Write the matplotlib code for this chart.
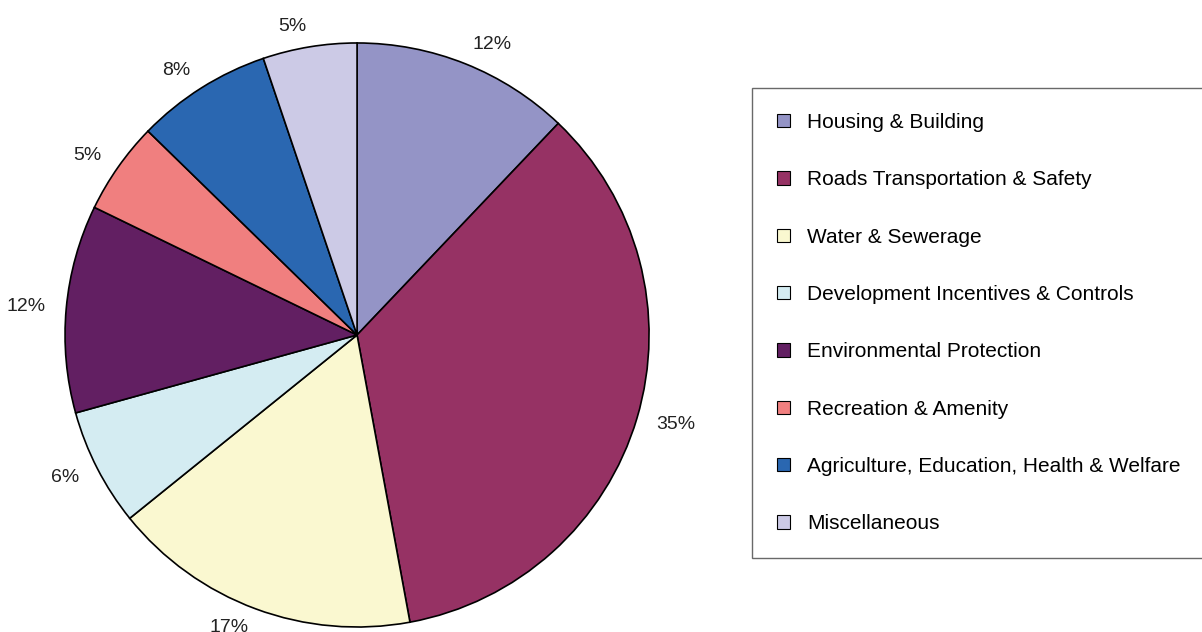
import matplotlib
matplotlib.use("Agg")
import matplotlib.pyplot as plt
from matplotlib.patches import Rectangle

plt.rcParams['font.family'] = ['Liberation Sans', 'DejaVu Sans']

#%% data
categories = ["Housing & Building", "Roads Transportation & Safety", "Water & Sewerage",
              "Development Incentives & Controls", "Environmental Protection",
              "Recreation & Amenity", "Agriculture, Education, Health & Welfare",
              "Miscellaneous"]
shares = [12.1, 35.0, 17.1, 6.5, 11.5, 5.1, 7.5, 5.2]
pct_labels = ["12%", "35%", "17%", "6%", "12%", "5%", "8%", "5%"]
colors = ["#9494C6", "#963264", "#FAF8D0", "#D4ECF2",
          "#621F62", "#F07F7F", "#2A67B1", "#CCCAE6"]

#%% plot
fig = plt.figure(figsize=(12.02, 6.32), dpi=100)
ax = fig.add_axes([0.0541, 0.0079, 0.4859, 0.9241])

wedges, texts = ax.pie(shares, labels=pct_labels, colors=colors, startangle=90,
                       counterclock=False, labeldistance=1.07,
                       wedgeprops=dict(edgecolor='black', linewidth=1.2),
                       textprops=dict(fontsize=14, color='#222222'))
ax.set_aspect('equal')
ax.set_xlim(-1, 1)
ax.set_ylim(-1, 1)

handles = [Rectangle((0, 0), 1, 1, facecolor=c, edgecolor='black', linewidth=0.8) for c in colors]
leg = fig.legend(handles, categories, loc='upper left',
                 bbox_to_anchor=(752 / 1202, 1 - 88 / 632), borderaxespad=0,
                 fontsize=15, handlelength=0.63, handleheight=0.63,
                 handletextpad=0.8, labelspacing=1.84, borderpad=1.2,
                 fancybox=False, frameon=True)
leg.get_frame().set_edgecolor('#444444')
leg.get_frame().set_linewidth(1.0)

fig.savefig("out.png", dpi=100)
